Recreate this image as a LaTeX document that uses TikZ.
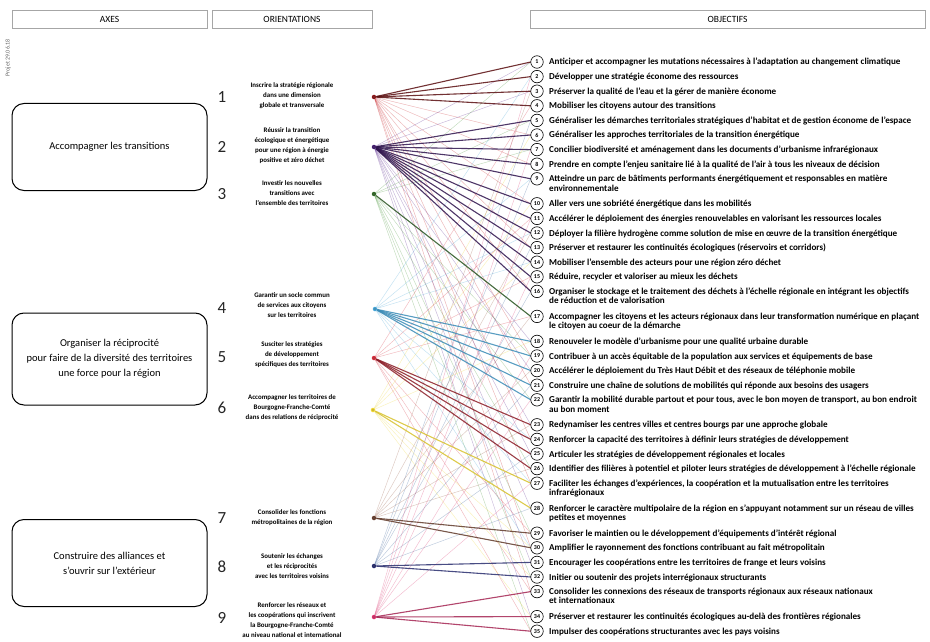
\documentclass[tikz,border=0pt]{standalone}
\usepackage{fontspec}
\setmainfont{Carlito}
\definecolor{cA}{RGB}{200,30,35}
\definecolor{cB}{RGB}{85,35,140}
\definecolor{cC}{RGB}{70,150,55}
\definecolor{cD}{RGB}{70,165,215}
\definecolor{cE}{RGB}{215,45,60}
\definecolor{cF}{RGB}{240,215,50}
\definecolor{cG}{RGB}{150,90,65}
\definecolor{cH}{RGB}{40,45,110}
\definecolor{cI}{RGB}{220,50,110}
\newcommand{\twoline}[2]{\begin{tabular}[t]{@{}l@{}}#1\\[-0.8pt]#2\end{tabular}}
\begin{document}
\begin{tikzpicture}[x=1pt,y=-1pt,
  hdr/.style={draw=gray!70,line width=0.8pt,minimum height=18pt,inner sep=0pt,font=\fontsize{9.5}{10}\selectfont},
  axbox/.style={draw=black,line width=1pt,rounded corners=12pt,minimum width=195pt,align=center,inner sep=0pt,font=\fontsize{10.5}{15}\selectfont},
  onum/.style={font=\fontsize{17}{17}\selectfont,inner sep=0pt,text=black!85},
  otext/.style={align=center,inner sep=0pt,font=\fontsize{6.9}{10}\selectfont\bfseries},
  odot/.style={circle,inner sep=0pt,minimum size=4.5pt},
  objc/.style={circle,draw=black,line width=0.6pt,fill=white,inner sep=0pt,minimum size=12.5pt,font=\fontsize{6}{6}\selectfont\bfseries},
  objt/.style={anchor=base west,inner sep=0pt,font=\fontsize{9.1}{10}\selectfont\bfseries},
  strong/.style={line width=1.1pt,opacity=0.85},
  faint/.style={line width=0.45pt,opacity=0.33}]
\useasboundingbox (0,0) rectangle (930,642);
\fill[white] (0,0) rectangle (930,642);

% headers
\node[hdr,minimum width=195pt] (hA) at (109.5,19) {AXES};
\node[hdr,minimum width=160pt] (hO) at (292,19) {ORIENTATIONS};
\node[hdr,minimum width=395pt] (hB) at (727.5,19) {OBJECTIFS};
\node[rotate=90,inner sep=0pt,font=\fontsize{6}{6}\selectfont,text=gray!80!black] (proj) at (8,58) {Projet 29.06.18};

% axes
\node[axbox,minimum height=87pt] (a1) at (109.5,147) {Accompagner les transitions};
\node[axbox,minimum height=92pt] (a2) at (109.5,359) {Organiser la réciprocité\\pour faire de la diversité des territoires\\une force pour la région};
\node[axbox,minimum height=87pt] (a3) at (109.5,563) {Construire des alliances et\\s'ouvrir sur l'extérieur};

% orientation numbers and texts
\node[onum] (n1) at (222,97) {1};
\node[onum] (n2) at (222,147) {2};
\node[onum] (n3) at (222,194) {3};
\node[onum] (n4) at (222,308) {4};
\node[onum] (n5) at (222,357) {5};
\node[onum] (n6) at (222,408) {6};
\node[onum] (n7) at (222,518) {7};
\node[onum] (n8) at (222,567) {8};
\node[onum] (n9) at (222,618) {9};
\node[otext] (t1) at (292,96) {Inscrire la stratégie régionale\\dans une dimension\\globale et transversale};
\node[otext] (t2) at (292,146) {Réussir la transition\\écologique et énergétique\\pour une région à énergie\\positive et zéro déchet};
\node[otext] (t3) at (292,193) {Investir les nouvelles\\transitions avec\\l'ensemble des territoires};
\node[otext] (t4) at (292,305) {Garantir un socle commun\\de services aux citoyens\\sur les territoires};
\node[otext] (t5) at (292,355) {Susciter les stratégies\\de développement\\spécifiques des territoires};
\node[otext] (t6) at (292,408) {Accompagner les territoires de\\Bourgogne-Franche-Comté\\dans des relations de réciprocité};
\node[otext] (t7) at (292,518) {Consolider les fonctions\\métropolitaines de la région};
\node[otext] (t8) at (292,566) {Soutenir les échanges\\et les réciprocités\\avec les territoires voisins};
\node[otext] (t9) at (292,620) {Renforcer les réseaux et\\les coopérations qui inscrivent\\la Bourgogne-Franche-Comté\\au niveau national et international};

% orientation dots
\node[odot,fill=cA!70!black] (o1) at (374,97) {};
\node[odot,fill=cB!80!black] (o2) at (374,147) {};
\node[odot,fill=cC!70!black] (o3) at (374,194) {};
\node[odot,fill=cD] (o4) at (375,309) {};
\node[odot,fill=cE] (o5) at (374,358) {};
\node[odot,fill=cF] (o6) at (373,410) {};
\node[odot,fill=cG!70!black] (o7) at (374,518) {};
\node[odot,fill=cH] (o8) at (374,566) {};
\node[odot,fill=cI] (o9) at (374,617) {};

% objective positions
\foreach \i/\y in {1/62,2/76.6,3/91.2,4/105.8,5/120.4,6/135,7/149.6,8/164.2,9/178.8,10/203.8,11/218.4,12/233,13/247.6,14/262.2,15/276.8,16/291.4,17/316.4,18/341.4,19/356,20/370.6,21/385.2,22/399.8,23/424.8,24/439.4,25/454,26/468.6,27/483.2,28/508.2,29/533.2,30/547.8,31/562.4,32/577,33/591.6,34/616.6,35/631.2}
  \coordinate (p\i) at (537,\y);

% faint links
\foreach \j in {6,8,10,13,16,19,21,24,27,30,33} \draw[faint,cA] (o1) -- ([xshift=-6.25pt]p\j);
\foreach \j in {1,3,18,20,23,25,28,31,34} \draw[faint,cB] (o2) -- ([xshift=-6.25pt]p\j);
\foreach \j in {1,5,7,19,22,26,29,32,35} \draw[faint,cC] (o3) -- ([xshift=-6.25pt]p\j);
\foreach \j in {2,9,12,14,24,27,30} \draw[faint,cD] (o4) -- ([xshift=-6.25pt]p\j);
\foreach \j in {4,11,15,17,29,33,35} \draw[faint,cE] (o5) -- ([xshift=-6.25pt]p\j);
\foreach \j in {6,10,14,18,30,32,34} \draw[faint,cF] (o6) -- ([xshift=-6.25pt]p\j);
\foreach \j in {3,12,17,20,23,26} \draw[faint,cG] (o7) -- ([xshift=-6.25pt]p\j);
\foreach \j in {5,9,13,16,21,25,28} \draw[faint,cH!60!cD] (o8) -- ([xshift=-6.25pt]p\j);
\foreach \j in {2,7,11,15,19,22,27} \draw[faint,cI] (o9) -- ([xshift=-6.25pt]p\j);

% strong links
\foreach \j in {1,2,3,4} \draw[strong,cA!45!black] (o1) -- ([xshift=-6.25pt]p\j);
\foreach \j in {5,...,16} \draw[strong,cB!55!black] (o2) -- ([xshift=-6.25pt]p\j);
\foreach \j in {17} \draw[strong,cC!55!black] (o3) -- ([xshift=-6.25pt]p\j);
\foreach \j in {18,...,22} \draw[strong,cD!85!black] (o4) -- ([xshift=-6.25pt]p\j);
\foreach \j in {23,...,26} \draw[strong,cE!65!black] (o5) -- ([xshift=-6.25pt]p\j);
\foreach \j in {27,28} \draw[strong,cF!90!black] (o6) -- ([xshift=-6.25pt]p\j);
\foreach \j in {29,30} \draw[strong,cG!65!black] (o7) -- ([xshift=-6.25pt]p\j);
\foreach \j in {31,32} \draw[strong,cH] (o8) -- ([xshift=-6.25pt]p\j);
\foreach \j in {33,34,35} \draw[strong,cI!75!black] (o9) -- ([xshift=-6.25pt]p\j);

% dot centres on top
\foreach \k in {1,...,9} \fill[black!70] (o\k) circle (0.6pt);

% circles
\foreach \i in {1,...,35} \node[objc] (c\i) at (p\i) {\i};

% objective texts
\tikzset{at obj/.style={at={([xshift=12pt,yshift=-3pt]c#1.center)}}}
\node[objt,at obj=1] (x1) {Anticiper et accompagner les mutations nécessaires à l'adaptation au changement climatique};
\node[objt,at obj=2] (x2) {Développer une stratégie économe des ressources};
\node[objt,at obj=3] (x3) {Préserver la qualité de l'eau et la gérer de manière économe};
\node[objt,at obj=4] (x4) {Mobiliser les citoyens autour des transitions};
\node[objt,at obj=5] (x5) {Généraliser les démarches territoriales stratégiques d'habitat et de gestion économe de l'espace};
\node[objt,at obj=6] (x6) {Généraliser les approches territoriales de la transition énergétique};
\node[objt,at obj=7] (x7) {Concilier biodiversité et aménagement dans les documents d'urbanisme infrarégionaux};
\node[objt,at obj=8] (x8) {Prendre en compte l'enjeu sanitaire lié à la qualité de l'air à tous les niveaux de décision};
\node[objt,at obj=9] (x9) {\twoline{Atteindre un parc de bâtiments performants énergétiquement et responsables en matière}{environnementale}};
\node[objt,at obj=10] (x10) {Aller vers une sobriété énergétique dans les mobilités};
\node[objt,at obj=11] (x11) {Accélérer le déploiement des énergies renouvelables en valorisant les ressources locales};
\node[objt,at obj=12] (x12) {Déployer la filière hydrogène comme solution de mise en œuvre de la transition énergétique};
\node[objt,at obj=13] (x13) {Préserver et restaurer les continuités écologiques (réservoirs et corridors)};
\node[objt,at obj=14] (x14) {Mobiliser l'ensemble des acteurs pour une région zéro déchet};
\node[objt,at obj=15] (x15) {Réduire, recycler et valoriser au mieux les déchets};
\node[objt,at obj=16] (x16) {\twoline{Organiser le stockage et le traitement des déchets à l'échelle régionale en intégrant les objectifs}{de réduction et de valorisation}};
\node[objt,at obj=17] (x17) {\twoline{Accompagner les citoyens et les acteurs régionaux dans leur transformation numérique en plaçant}{le citoyen au coeur de la démarche}};
\node[objt,at obj=18] (x18) {Renouveler le modèle d'urbanisme pour une qualité urbaine durable};
\node[objt,at obj=19] (x19) {Contribuer à un accès équitable de la population aux services et équipements de base};
\node[objt,at obj=20] (x20) {Accélérer le déploiement du Très Haut Débit et des réseaux de téléphonie mobile};
\node[objt,at obj=21] (x21) {Construire une chaîne de solutions de mobilités qui réponde aux besoins des usagers};
\node[objt,at obj=22] (x22) {\twoline{Garantir la mobilité durable partout et pour tous, avec le bon moyen de transport, au bon endroit}{au bon moment}};
\node[objt,at obj=23] (x23) {Redynamiser les centres villes et centres bourgs par une approche globale};
\node[objt,at obj=24] (x24) {Renforcer la capacité des territoires à définir leurs stratégies de développement};
\node[objt,at obj=25] (x25) {Articuler les stratégies de développement régionales et locales};
\node[objt,at obj=26] (x26) {Identifier des filières à potentiel et piloter leurs stratégies de développement à l'échelle régionale};
\node[objt,at obj=27] (x27) {\twoline{Faciliter les échanges d'expériences, la coopération et la mutualisation entre les territoires}{infrarégionaux}};
\node[objt,at obj=28] (x28) {\twoline{Renforcer le caractère multipolaire de la région en s'appuyant notamment sur un réseau de villes}{petites et moyennes}};
\node[objt,at obj=29] (x29) {Favoriser le maintien ou le développement d'équipements d'intérêt régional};
\node[objt,at obj=30] (x30) {Amplifier le rayonnement des fonctions contribuant au fait métropolitain};
\node[objt,at obj=31] (x31) {Encourager les coopérations entre les territoires de frange et leurs voisins};
\node[objt,at obj=32] (x32) {Initier ou soutenir des projets interrégionaux structurants};
\node[objt,at obj=33] (x33) {\twoline{Consolider les connexions des réseaux de transports régionaux aux réseaux nationaux}{et internationaux}};
\node[objt,at obj=34] (x34) {Préserver et restaurer les continuités écologiques au-delà des frontières régionales};
\node[objt,at obj=35] (x35) {Impulser des coopérations structurantes avec les pays voisins};
\end{tikzpicture}
\end{document}
